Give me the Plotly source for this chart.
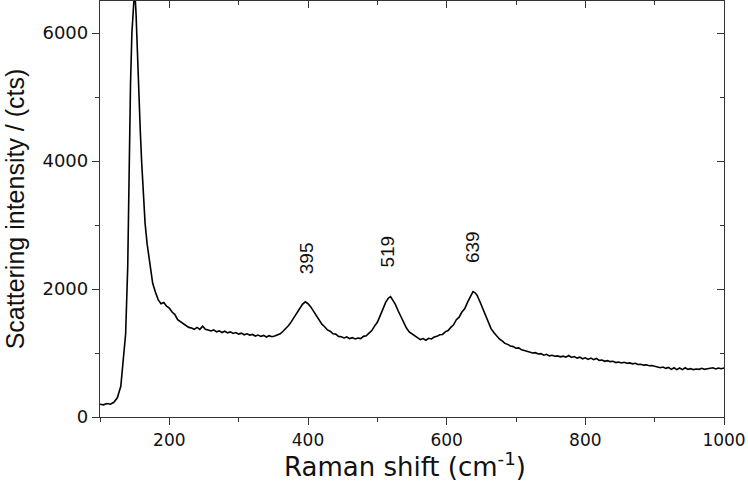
import plotly.graph_objects as go

raman_shift = [100, 105, 110, 115, 120, 125, 130, 133, 135, 137, 140, 142, 144, 146, 148, 150, 152, 154, 156, 158,
               160, 162, 165, 168, 172, 176,
               180, 184, 188, 192, 196, 200, 204, 208, 212, 216, 220, 224, 228, 232, 236, 240, 244, 248, 252, 256,
               260, 264, 268, 272, 276, 280, 284, 288, 292, 296, 300, 304, 308, 312, 316, 320, 324, 328, 332, 336,
               340, 344, 348, 352, 356, 360, 364, 368, 372, 376, 380, 384, 388, 392, 396, 400, 404, 408, 412, 416,
               420, 424, 428, 432, 436, 440, 444, 448, 452, 456, 460, 464, 468, 472, 476, 480, 484, 488, 492, 496,
               500, 504, 508, 512, 516, 519, 522, 526, 530, 534, 538, 542, 546, 550, 554, 558, 562, 566, 570, 574,
               578, 582, 586, 590, 594, 598, 602, 606, 610, 614, 618, 622, 626, 630, 634, 638, 641, 644, 648, 652,
               656, 660, 664, 668, 672, 676, 680, 684, 688, 692, 696, 700, 704, 708, 712, 716, 720, 724, 728, 732,
               736, 740, 744, 748, 752, 756, 760, 764, 768, 772, 776, 780, 784, 788, 792, 796, 800, 804, 808, 812,
               816, 820, 824, 828, 832, 836, 840, 844, 848, 852, 856, 860, 864, 868, 872, 876, 880, 884, 888, 892,
               896, 900, 904, 908, 912, 916, 920, 924, 928, 932, 936, 940, 944, 948, 952, 956, 960, 964, 968, 972,
               976, 980, 984, 988, 992, 996, 1000]

intensity = [200, 190, 210, 200, 230, 300, 480, 790, 1050, 1300, 2350, 4000, 5200, 6000, 6500, 6700, 6300, 5600, 5000, 4500,
             4000, 3600, 3030, 2700, 2350, 2090,
             1950, 1830, 1770, 1790, 1730, 1700, 1640, 1600, 1520, 1490, 1450, 1430, 1400, 1390, 1370, 1400, 1370, 1420, 1370, 1360,
             1345, 1360, 1330, 1345, 1320, 1340, 1315, 1330, 1305, 1320, 1295, 1310, 1285, 1300, 1280, 1290, 1265, 1280, 1260, 1275,
             1250, 1270, 1255, 1265, 1285, 1300, 1340, 1380, 1430, 1490, 1560, 1630, 1710, 1760, 1800, 1770, 1720, 1650, 1580, 1520,
             1450, 1410, 1360, 1340, 1300, 1295, 1260, 1255, 1235, 1250, 1225, 1240, 1220, 1235, 1225, 1260, 1270, 1310, 1350, 1420,
             1480, 1580, 1680, 1790, 1860, 1880, 1830, 1760, 1660, 1560, 1470, 1390, 1330, 1300, 1260, 1240, 1210, 1225, 1200, 1230,
             1220, 1250, 1260, 1285, 1290, 1330, 1350, 1400, 1440, 1520, 1560, 1640, 1690, 1790, 1880, 1960, 1940, 1900, 1800, 1700,
             1600, 1490, 1380, 1320, 1260, 1220, 1190, 1150, 1135, 1110, 1100, 1075, 1080, 1050, 1040, 1030, 1020, 1000, 1005, 985,
             990, 965, 980, 955, 965, 950, 955, 940, 950, 935, 960, 930, 945, 920, 935, 910, 925, 900, 920, 895,
             915, 885, 890, 870, 880, 865, 870, 850, 860, 845, 855, 840, 845, 830, 840, 820, 825, 810, 815, 800,
             805, 790, 785, 770, 780, 760, 775, 745, 770, 740, 765, 740, 770, 745, 755, 740, 750, 745, 760, 745,
             755, 760, 770, 750, 765, 755, 765]

peak_labels = ["395", "519", "639"]
peak_label_x = [397, 515, 637]
peak_label_y = [2480, 2580, 2660]

x_ticks = [200, 400, 600, 800, 1000]
y_ticks = [0, 2000, 4000, 6000]

AX = "#333333"
TXT = "#111111"
fig = go.Figure()
fig.add_trace(go.Scatter(x=raman_shift, y=intensity, mode="lines",
                         line=dict(color="black", width=1.6), showlegend=False))
# invisible trace to create mirrored axes
fig.add_trace(go.Scatter(x=[100], y=[0], xaxis="x2", yaxis="y2", mode="markers",
                         marker=dict(opacity=0), showlegend=False, hoverinfo="skip"))

for t, xv, yv in zip(peak_labels, peak_label_x, peak_label_y):
    fig.add_annotation(x=xv, y=yv, text=t, showarrow=False, textangle=-90,
                       xanchor="center", yanchor="middle",
                       font=dict(family="Liberation Sans", size=19, color=TXT))

# x-axis title as annotation for precise placement
fig.add_annotation(x=0.489, y=-0.115, xref="paper", yref="paper", text="Raman shift (cm<sup>-1</sup>)",
                   showarrow=False, xanchor="center", yanchor="middle",
                   font=dict(family="DejaVu Sans", size=26, color=TXT))

fig.update_layout(
    width=748, height=488,
    margin=dict(l=100, r=24, t=1, b=71),
    paper_bgcolor="white", plot_bgcolor="white",
    xaxis=dict(range=[100, 1000], tickvals=x_ticks, ticks="outside", ticklen=7, tickwidth=1.3,
               tickcolor=AX, showline=True, linecolor=AX, linewidth=1.3, showgrid=False, zeroline=False,
               minor=dict(ticks="outside", dtick=100, tick0=0, ticklen=4, tickcolor=AX, tickwidth=1.2),
               tickfont=dict(family="DejaVu Sans", size=17, color=TXT)),
    yaxis=dict(range=[0, 6500], tickvals=y_ticks, ticks="outside", ticklen=7, tickwidth=1.3,
               tickcolor=AX, showline=True, linecolor=AX, linewidth=1.3, showgrid=False, zeroline=False,
               minor=dict(ticks="outside", dtick=1000, tick0=0, ticklen=4, tickcolor=AX, tickwidth=1.2),
               tickfont=dict(family="DejaVu Sans", size=18, color=TXT),
               title=dict(text="Scattering intensity / (cts)", standoff=10,
                          font=dict(family="Liberation Sans", size=25, color=TXT))),
    xaxis2=dict(overlaying="x", side="top", range=[100, 1000], tickvals=x_ticks, ticks="inside",
                ticklen=7, tickwidth=1.3, tickcolor=AX, showline=True, linecolor=AX, linewidth=1.3,
                showticklabels=False, showgrid=False, zeroline=False,
                minor=dict(ticks="inside", dtick=100, tick0=0, ticklen=4, tickcolor=AX, tickwidth=1.2)),
    yaxis2=dict(overlaying="y", side="right", range=[0, 6500], tickvals=y_ticks, ticks="inside",
                ticklen=7, tickwidth=1.3, tickcolor=AX, showline=True, linecolor=AX, linewidth=1.3,
                showticklabels=False, showgrid=False, zeroline=False,
                minor=dict(ticks="inside", dtick=1000, tick0=0, ticklen=4, tickcolor=AX, tickwidth=1.2)),
)

fig.write_html("out.html", config={"displayModeBar": False},
               post_script="document.body.style.margin='0px';")
